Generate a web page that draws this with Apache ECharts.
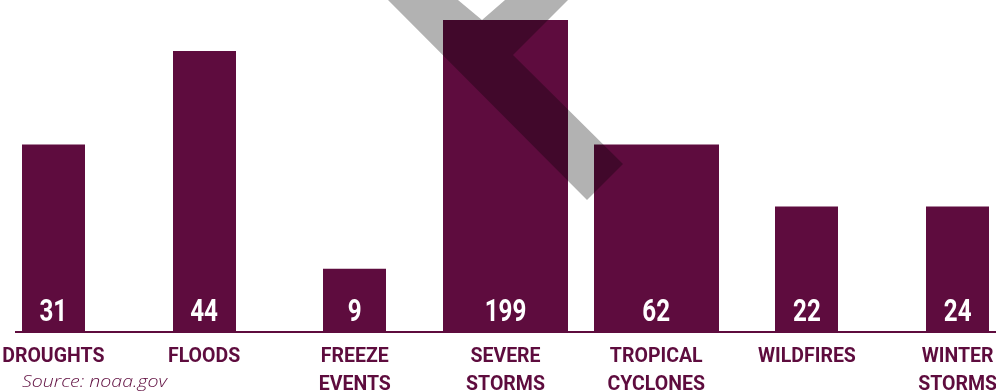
<!DOCTYPE html>
<html>
<head>
<meta charset="utf-8">
<script src="https://cdn.jsdelivr.net/npm/echarts@6/dist/echarts.min.js"></script>
<style>
html,body{margin:0;padding:0;background:#fff;}
#chart{width:996px;height:392px;}
</style>
</head>
<body>
<div id="chart"></div>
<script>
// ---- data ----
var categories = ['DROUGHTS', 'FLOODS', 'FREEZE\nEVENTS', 'SEVERE\nSTORMS', 'TROPICAL\nCYCLONES', 'WILDFIRES', 'WINTER\nSTORMS'];
var eventCounts = [31, 44, 9, 199, 62, 22, 24];
var barLevels = [3, 4.5, 1, 5, 3, 2, 2];
var sourceText = 'Source: noaa.gov';

// ---- style ----
var PURPLE = '#5e0c3e';
var wideSet = { 'SEVERE\nSTORMS': true, 'TROPICAL\nCYCLONES': true };
var NARROW_W = 63, WIDE_W = 125;

var seriesData = categories.map(function (c, i) { return [i, barLevels[i]]; });

function renderBar(params, api) {
  var idx = api.value(0);
  var base = api.coord([idx, 0]);
  var top = api.coord([idx, api.value(1)]);
  var w = wideSet[categories[idx]] ? WIDE_W : NARROW_W;
  var x = Math.round(base[0] - w / 2);
  return {
    type: 'group',
    children: [
      {
        type: 'rect',
        shape: { x: x, y: top[1], width: w, height: base[1] - top[1] },
        style: { fill: PURPLE }
      },
      {
        type: 'text',
        x: base[0],
        y: base[1] - 18,
        scaleX: 0.78,
        style: {
          text: String(eventCounts[params.dataIndex]),
          fill: '#ffffff',
          font: 'bold 31px Roboto, sans-serif',
          align: 'center',
          verticalAlign: 'middle'
        }
      }
    ]
  };
}

var chart = echarts.init(document.getElementById('chart'), null, { renderer: 'canvas' });
chart.setOption({
  animation: false,
  backgroundColor: '#ffffff',
  grid: { left: -22, right: -37, top: 20, bottom: 61, containLabel: false, outerBoundsMode: 'none' },
  xAxis: {
    type: 'category',
    data: categories,
    axisLine: { show: false },
    axisTick: { show: false },
    axisLabel: {
      interval: 0,
      margin: 12,
      color: PURPLE,
      fontFamily: 'Roboto, sans-serif',
      fontWeight: 'bold',
      fontSize: 19.5,
      lineHeight: 28
    }
  },
  yAxis: {
    type: 'value',
    min: 0,
    max: 5,
    show: false,
    splitLine: { show: false }
  },
  series: [
    {
      name: 'events',
      type: 'custom',
      data: seriesData,
      encode: { x: 0, y: 1 },
      renderItem: renderBar,
      clip: false
    }
  ],
  graphic: [
    {
      type: 'line',
      z: 50,
      shape: { x1: 15, y1: 332, x2: 996, y2: 332 },
      style: { stroke: PURPLE, lineWidth: 2 }
    },
    {
      type: 'polygon',
      z: 100,
      shape: {
        points: [[388, 0], [458, 0], [482, 20], [505, 0], [568, 0], [513, 55], [623, 164], [587, 200]]
      },
      style: { fill: 'rgba(0,0,0,0.3)' }
    },
    {
      type: 'text',
      x: 22,
      y: 374,
      scaleX: 1.15,
      style: {
        text: sourceText,
        fill: PURPLE,
        font: 'italic 300 17px "Open Sans", sans-serif'
      }
    }
  ]
});
</script>
</body>
</html>
